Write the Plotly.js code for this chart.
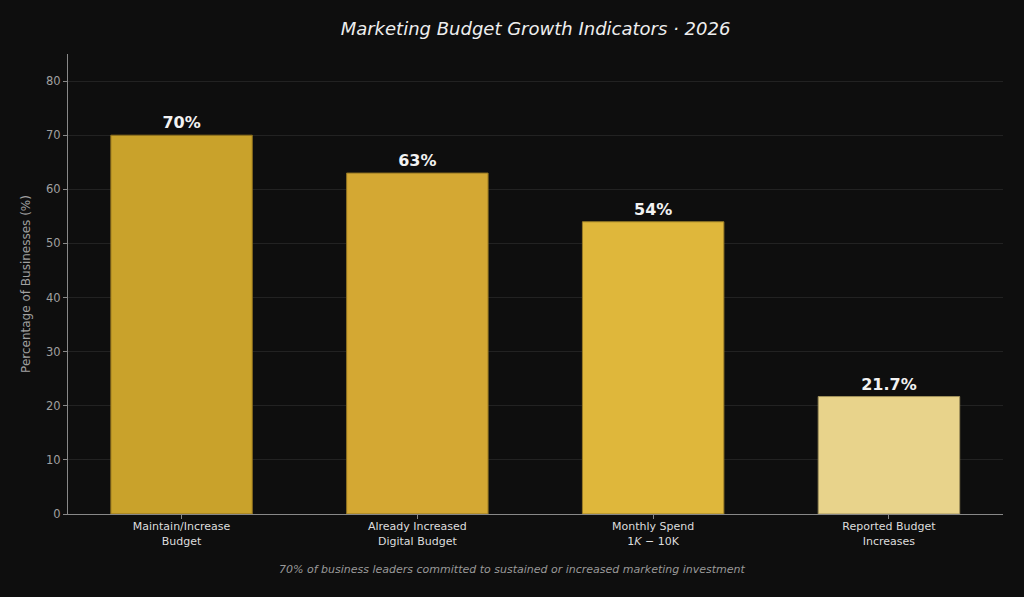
<!DOCTYPE html>
<html>
<head>
<meta charset="utf-8">
<script src="https://cdn.plot.ly/plotly-3.0.1.min.js"></script>
<style>html,body{margin:0;padding:0;background:#0e0e0e;}#chart{width:1024px;height:597px;}</style>
</head>
<body>
<div id="chart"></div>
<script>
const categories = ["Maintain/Increase<br>Budget", "Already Increased<br>Digital Budget", "Monthly Spend<br>1<i>K</i> − 10K", "Reported Budget<br>Increases"];
const values = [70, 63, 54, 21.7];
const valueLabels = ["70%", "63%", "54%", "21.7%"];
const barColors = ["#C9A22B", "#D4A833", "#DFB73B", "#E8D38B"];
const edgeColors = ["#8a6d1c", "#8f7221", "#987c27", "#a0915c"];

const font = "DejaVu Sans, Verdana, sans-serif";
const trace = {
  type: "bar",
  x: [0, 1, 2, 3],
  y: values,
  width: 0.6,
  marker: {color: barColors, line: {color: edgeColors, width: 1}},
  text: valueLabels,
  textposition: "outside",
  cliponaxis: false,
  textfont: {family: font, size: 16, color: "#f2f2f2", weight: "bold"},
  hoverinfo: "skip"
};
const layout = {
  width: 1024, height: 597,
  paper_bgcolor: "#0e0e0e", plot_bgcolor: "#0e0e0e",
  margin: {l: 68, r: 21, t: 54, b: 83},
  showlegend: false,
  title: {text: "<i>Marketing Budget Growth Indicators · 2026</i>", xref: "paper", x: 0.5, xanchor: "center", y: 0.952, yanchor: "middle",
          font: {family: font, size: 18, color: "#eeeeee"}},
  xaxis: {
    range: [-0.4816, 3.4837],
    tickmode: "array", tickvals: [0, 1, 2, 3], ticktext: categories,
    tickfont: {family: font, size: 11, color: "#dddddd"},
    ticks: "outside", ticklen: 4, tickcolor: "#888888",
    ticklabelstandoff: -2,
    showline: true, linecolor: "#888888", linewidth: 1,
    showgrid: false, zeroline: false, fixedrange: true
  },
  yaxis: {
    range: [0, 85],
    tickvals: [0, 10, 20, 30, 40, 50, 60, 70, 80],
    tickfont: {family: font, size: 11.5, color: "#a0a0a0"},
    ticks: "outside", ticklen: 4, tickcolor: "#888888",
    showline: true, linecolor: "#888888", linewidth: 1,
    gridcolor: "#222222", gridwidth: 1, zeroline: false,
    title: {text: "Percentage of Businesses (%)", font: {family: font, size: 12, color: "#a0a0a0"}, standoff: 12},
    fixedrange: true
  },
  annotations: [{
    text: "<i>70% of business leaders committed to sustained or increased marketing investment</i>",
    xref: "paper", yref: "paper", x: 0.475, y: 0, yshift: -55, xanchor: "center", yanchor: "middle",
    showarrow: false, font: {family: font, size: 11, color: "#999999"}
  }]
};
Plotly.newPlot("chart", [trace], layout, {displayModeBar: false, staticPlot: true});
</script>
</body>
</html>
